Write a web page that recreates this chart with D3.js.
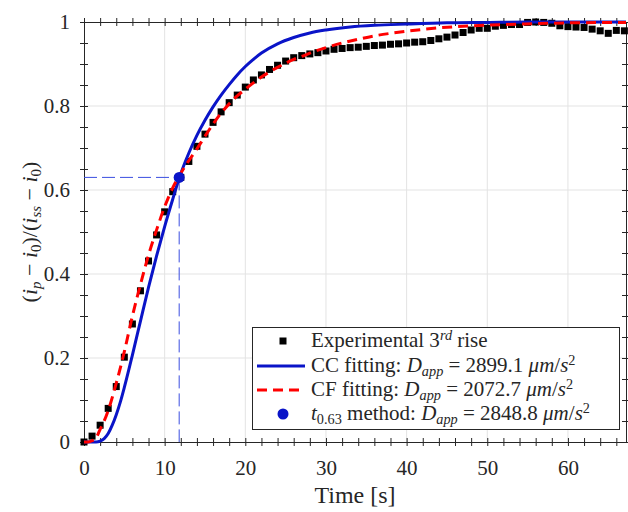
<!DOCTYPE html>
<html>
<head>
<meta charset="utf-8">
<script src="https://cdn.jsdelivr.net/npm/d3@7"></script>
<style>
body { margin:0; background:#fff; }
text { fill:#262626; }
</style>
</head>
<body>
<svg width="628" height="512"></svg>
<script>
// experimental 3rd rise, one sample per second
var expTime = [0,1,2,3,4,5,6,7,8,9,10,11,12,13,14,15,16,17,18,19,20,21,22,23,24,25,26,27,28,29,30,31,32,33,
    34,35,36,37,38,39,40,41,42,43,44,45,46,47,48,49,50,51,52,53,54,55,56,57,58,59,60,61,62,63,64,65,66,67]
var expValues = [0.000,0.014,0.040,0.080,0.132,0.202,0.281,0.360,0.431,0.493,0.548,0.596,0.630,0.668,0.704,
    0.733,0.761,0.786,0.808,0.826,0.845,0.862,0.874,0.887,0.897,0.907,0.915,0.920,0.924,0.927,0.931,0.935,
    0.937,0.939,0.940,0.942,0.944,0.945,0.947,0.948,0.950,0.952,0.953,0.956,0.960,0.964,0.969,0.975,0.981,
    0.985,0.985,0.990,0.992,0.994,0.994,0.999,1.000,0.999,0.997,0.991,0.989,0.988,0.987,0.983,0.979,0.973,
    0.980,0.979]

// CC fitting (blue solid)
var ccTime = [0,1,1.5,2,2.5,3,3.5,4,4.5,5,6,7,8,9,10,11,11.8,13,14,15,16,17,18,19,20,21,22,24,26,28,30,33,36,40,45,50,55,67.2]
var ccValues = [0,0,0,0.002,0.008,0.02,0.04,0.065,0.095,0.13,0.207,0.288,0.368,0.443,0.513,0.578,0.628,0.688,
    0.73,0.766,0.798,0.826,0.851,0.874,0.894,0.911,0.926,0.948,0.963,0.974,0.981,0.988,0.992,0.995,0.998,0.999,1.0,1.0]

// CF fitting (red dashed)
var cfTime = [0,0.5,1,1.5,2,2.5,3,4,5,6,7,8,9,10,11,12,13,14,15,16,17,18,19,20,21,22,23,24,25,26,27,28,30,32,
    34,36,38,40,44,48,52,56,60,67.2]
var cfValues = [0,0,0.003,0.01,0.03,0.05,0.075,0.14,0.215,0.3,0.375,0.445,0.505,0.56,0.605,0.64,0.67,0.698,
    0.728,0.757,0.783,0.805,0.824,0.84,0.855,0.869,0.881,0.892,0.902,0.911,0.918,0.926,0.939,0.95,0.959,0.967,
    0.973,0.978,0.986,0.991,0.994,0.996,0.998,0.999]

// t0.63 point
var t063 = [11.8]
var y063 = [0.63]

var xMajor = [0,10,20,30,40,50,60]
var xMinor = [2,4,6,8,12,14,16,18,22,24,26,28,32,34,36,38,42,44,46,48,52,54,56,58,62,64,66]
var yMajor = [0,0.2,0.4,0.6,0.8,1]
var yMinor = [0.05,0.1,0.15,0.25,0.3,0.35,0.45,0.5,0.55,0.65,0.7,0.75,0.85,0.9,0.95]

var blue = "#0a14c8"
var red = "#ff0000"
var axisColor = "#262626"

// find a serif font that is really installed
var pickFont = function(candidates)
{
    var ctx = document.createElement("canvas").getContext("2d")
    var sample = "Experimental mmmmiiiilll 0123456789"
    var bases = ["monospace","sans-serif"]
    var baseW = bases.map(function(b){ ctx.font = "40px "+b; return ctx.measureText(sample).width })
    for (var i=0; i<candidates.length; i++)
    {
        for (var j=0; j<bases.length; j++)
        {
            ctx.font = "40px '"+candidates[i]+"', "+bases[j]
            if (Math.abs(ctx.measureText(sample).width - baseW[j]) > 0.5) return "'"+candidates[i]+"'"
        }
    }
    return "serif"
}
var serifFont = pickFont(["Liberation Serif","Tinos","Times New Roman","DejaVu Serif","Noto Serif","FreeSerif","Nimbus Roman","Bitstream Vera Serif"])

var plot = {left:84, top:22, right:626, bottom:442}

var svg = d3.select("svg").style("font-family",serifFont+", serif")

var xScale = d3.scaleLinear().domain([0,67.2]).range([plot.left,plot.right])
var yScale = d3.scaleLinear().domain([0,1]).range([plot.bottom,plot.top])

// grid
var grid = svg.append("g").attr("id","grid")
grid.selectAll(".gx")
    .data(xMajor.slice(1))
    .enter()
    .append("line")
    .attr("x1",function(d){return xScale(d)})
    .attr("x2",function(d){return xScale(d)})
    .attr("y1",plot.top)
    .attr("y2",plot.bottom)
    .attr("stroke","#e3e3e3")
grid.selectAll(".gy")
    .data(yMajor.slice(1,5))
    .enter()
    .append("line")
    .attr("y1",function(d){return yScale(d)})
    .attr("y2",function(d){return yScale(d)})
    .attr("x1",plot.left)
    .attr("x2",plot.right)
    .attr("stroke","#e3e3e3")

// axes, ticks go both ways like matlab TickDir both
var makeAxis = function(axisFn, scale, values, labels, transform, vertical)
{
    var ax = axisFn(scale).tickValues(values).tickSizeOuter(0).tickSizeInner(4)
    if (labels) ax.tickFormat(d3.format("~g")).tickPadding(vertical ? 10 : 14)
    else ax.tickFormat("")
    var g = svg.append("g")
        .attr("transform",transform)
        .call(ax)
        .attr("font-family",null)
    g.selectAll("line").attr("stroke",axisColor)
    if (vertical) g.selectAll("line").attr("x1",-4).attr("x2",4)
    else g.selectAll("line").attr("y1",-4).attr("y2",4)
    g.select(".domain").attr("stroke",axisColor)
    g.selectAll("text")
        .attr("font-size",21)
        .attr("fill",axisColor)
    return g
}

var bottomY = "translate(0,"+plot.bottom+")"
var topY = "translate(0,"+plot.top+")"
var leftX = "translate("+plot.left+",0)"
var rightX = "translate("+plot.right+",0)"

makeAxis(d3.axisBottom, xScale, xMajor, true, bottomY, false)
makeAxis(d3.axisBottom, xScale, xMinor, false, bottomY, false)
makeAxis(d3.axisTop, xScale, xMajor, false, topY, false)
makeAxis(d3.axisTop, xScale, xMinor, false, topY, false)
makeAxis(d3.axisLeft, yScale, yMajor, true, leftX, true)
makeAxis(d3.axisLeft, yScale, yMinor, false, leftX, true)
makeAxis(d3.axisRight, yScale, yMajor, false, rightX, true)
makeAxis(d3.axisRight, yScale, yMinor, false, rightX, true)

// t0.63 guide lines
svg.append("line")
    .attr("x1",xScale(0)).attr("x2",xScale(t063[0]))
    .attr("y1",yScale(y063[0])).attr("y2",yScale(y063[0]))
    .attr("stroke","#3a4ee0").attr("stroke-width",1).attr("stroke-dasharray","13,5")
svg.append("line")
    .attr("x1",xScale(t063[0])).attr("x2",xScale(t063[0]))
    .attr("y1",yScale(y063[0])).attr("y2",yScale(0))
    .attr("stroke","#3a4ee0").attr("stroke-width",1).attr("stroke-dasharray","13,5")

// experimental squares
var sq = 7
svg.append("g").selectAll("rect")
    .data(expTime)
    .enter()
    .append("rect")
    .attr("x",function(d){return xScale(d)-sq/2})
    .attr("y",function(d,i){return yScale(expValues[i])-sq/2})
    .attr("width",sq)
    .attr("height",sq)
    .attr("fill","black")

var lineGenerator = d3.line()
    .x(function(d){return xScale(d[0])})
    .y(function(d){return yScale(d[1])})
    .curve(d3.curveMonotoneX)

svg.append("path")
    .datum(ccTime.map(function(t,i){return [t,ccValues[i]]}))
    .attr("d",lineGenerator)
    .attr("fill","none")
    .attr("stroke",blue)
    .attr("stroke-width",3)

svg.append("path")
    .datum(cfTime.map(function(t,i){return [t,cfValues[i]]}))
    .attr("d",lineGenerator)
    .attr("fill","none")
    .attr("stroke",red)
    .attr("stroke-width",3)
    .attr("stroke-dasharray","10,6")

svg.append("circle")
    .attr("cx",xScale(t063[0]))
    .attr("cy",yScale(y063[0]))
    .attr("r",5.5)
    .attr("fill",blue)

// text with italic / sub / sup pieces
var richText = function(parent, x, y, size, parts)
{
    var t = parent.append("text").attr("x",x).attr("y",y).attr("font-size",size)
    var shift = 0
    parts.forEach(function(p)
    {
        var target = p.sub ? size*0.2 : (p.sup ? -size*0.33 : 0)
        var span = t.append("tspan").text(p.s).attr("dy",target-shift)
        shift = target
        if (p.i) span.attr("font-style","italic")
        if (p.sub || p.sup) span.attr("font-size",size*0.68)
    })
    return t
}

var Dapp = [{s:"D",i:true},{s:"app",i:true,sub:true}]
var unit = [{s:"μm",i:true},{s:"/"},{s:"s",i:true},{s:"2",sup:true}]

var legendLabels = [
    [{s:"Experimental 3"},{s:"rd",i:true,sup:true},{s:" rise"}],
    [{s:"CC fitting: "}].concat(Dapp,[{s:" = 2899.1 "}],unit),
    [{s:"CF fitting: "}].concat(Dapp,[{s:" = 2072.7 "}],unit),
    [{s:"t",i:true},{s:"0.63",sub:true},{s:" method: "}].concat(Dapp,[{s:" = 2848.8 "}],unit)
]

var legend = svg.append("g").attr("id","legend")
legend.append("rect")
    .attr("x",252.5).attr("y",327.5)
    .attr("width",367).attr("height",102)
    .attr("fill","white").attr("stroke",axisColor)

var rowY = [341,366,390,414]
legend.append("rect")
    .attr("x",283-sq/2).attr("y",rowY[0]-sq/2).attr("width",sq).attr("height",sq).attr("fill","black")
legend.append("line")
    .attr("x1",257).attr("x2",305).attr("y1",rowY[1]).attr("y2",rowY[1])
    .attr("stroke",blue).attr("stroke-width",3)
legend.append("line")
    .attr("x1",257).attr("x2",305).attr("y1",rowY[2]).attr("y2",rowY[2])
    .attr("stroke",red).attr("stroke-width",3).attr("stroke-dasharray","10,6")
legend.append("circle")
    .attr("cx",283).attr("cy",rowY[3]).attr("r",5.5).attr("fill",blue)

var legendTexts = legendLabels.map(function(parts,i)
{
    return richText(legend, 311, rowY[i]+6, 20, parts)
})
// longest entry runs to about x = 610
var legendSize = Math.min(21, 20 * 298 / legendTexts[3].node().getComputedTextLength())
legendTexts.forEach(function(t)
{
    t.attr("font-size",legendSize)
    t.selectAll("tspan").filter(function(){return d3.select(this).attr("font-size")})
        .attr("font-size",legendSize*0.68)
})

// axis labels
svg.append("text")
    .attr("x",(plot.left+plot.right)/2)
    .attr("y",503)
    .attr("text-anchor","middle")
    .attr("font-size",24)
    .text("Time [s]")

var ylab = richText(svg, 0, 0, 22, [
    {s:"("},{s:"i",i:true},{s:"p",i:true,sub:true},{s:" − "},{s:"i",i:true},{s:"0",sub:true},
    {s:")/("},{s:"i",i:true},{s:"ss",i:true,sub:true},{s:" − "},{s:"i",i:true},{s:"0",sub:true},{s:")"}
])
ylab.attr("text-anchor","middle")
    .attr("transform","translate(37,232) rotate(-90)")
</script>
</body>
</html>
